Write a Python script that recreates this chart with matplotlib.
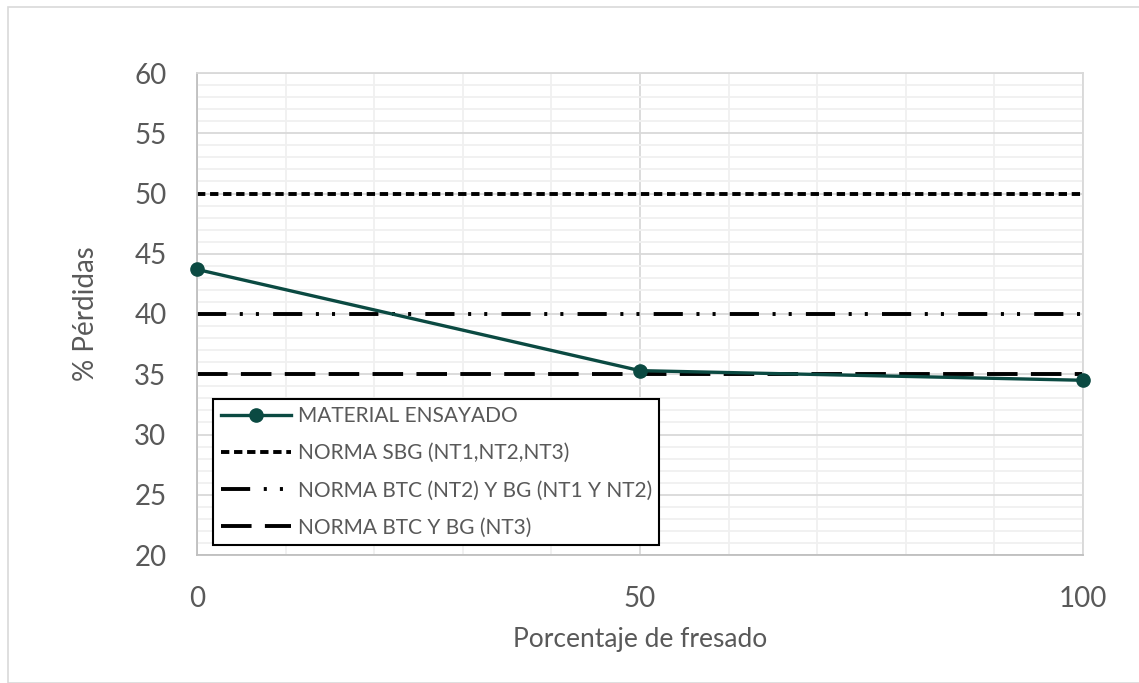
import matplotlib
matplotlib.use("Agg")
import matplotlib.pyplot as plt
from matplotlib.patches import Rectangle
from matplotlib.ticker import MultipleLocator

plt.rcParams['font.family'] = ['Lato', 'DejaVu Sans']
plt.rcParams['lines.scale_dashes'] = False

# Data
fresado = [0, 50, 100]
perdidas = [43.7, 35.3, 34.5]
norma_sbg = 50
norma_btc_bg_nt12 = 40
norma_btc_bg_nt3 = 35

labels = ["MATERIAL ENSAYADO",
          "NORMA SBG (NT1,NT2,NT3)",
          "NORMA BTC (NT2) Y BG (NT1 Y NT2)",
          "NORMA BTC Y BG (NT3)"]

text_color = "#595959"
teal = "#0B4A42"

fig = plt.figure(figsize=(11.39, 6.83), dpi=100)
W, H = 1139, 683

# outer chart frame
fig.patches.append(Rectangle((8 / W, 0), 1.2, 1 - 7 / H, transform=fig.transFigure,
                             fill=False, edgecolor="#d9d9d9", linewidth=1.2))

ax = fig.add_axes([197 / W, 1 - 555 / H, (1083 - 197) / W, (555 - 73) / H])

ax.set_xlim(0, 100)
ax.set_ylim(20, 60)
ax.xaxis.set_major_locator(MultipleLocator(50))
ax.xaxis.set_minor_locator(MultipleLocator(10))
ax.yaxis.set_major_locator(MultipleLocator(5))
ax.yaxis.set_minor_locator(MultipleLocator(1))

ax.grid(which="minor", color="#f0f0f0", linewidth=1.3, zorder=0)
ax.grid(which="major", color="#d9d9d9", linewidth=1.3, zorder=0.5)
ax.set_axisbelow(True)

for s in ["top", "right"]:
    ax.spines[s].set_color("#d9d9d9")
    ax.spines[s].set_linewidth(1.3)
for s in ["left", "bottom"]:
    ax.spines[s].set_color("#bfbfbf")
    ax.spines[s].set_linewidth(1.3)

ax.tick_params(which="both", length=0)
ax.tick_params(axis="both", labelsize=20, colors=text_color)
ax.tick_params(axis="x", pad=22)
ax.tick_params(axis="y", pad=22)

lw = 2.8
dash_sbg = (0, (6.0, 3.4))
dash_btc = (0, (21.0, 9.8, 2.2, 9.4, 2.2, 10.2))
dash_bg3 = (0, (22.0, 9.6))

ax.axhline(norma_sbg, color="black", linewidth=lw, linestyle=dash_sbg, zorder=2)
ax.axhline(norma_btc_bg_nt12, color="black", linewidth=lw, linestyle=dash_btc, zorder=2)
ax.axhline(norma_btc_bg_nt3, color="black", linewidth=lw, linestyle=dash_bg3, zorder=2)
ax.plot(fresado, perdidas, color=teal, linewidth=2.4, marker="o", markersize=9.5,
        clip_on=False, zorder=3)

h_mat, = ax.plot([], [], color=teal, linewidth=2.4, marker="o", markersize=9.5)
h_sbg, = ax.plot([], [], color="black", linewidth=lw, linestyle=dash_sbg)
h_btc, = ax.plot([], [], color="black", linewidth=lw, linestyle=dash_btc)
h_bg3, = ax.plot([], [], color="black", linewidth=lw, linestyle=dash_bg3)

leg = ax.legend([h_mat, h_sbg, h_btc, h_bg3], labels,
                loc="lower left", bbox_to_anchor=(16 / 886, 10 / 482),
                fontsize=15, handlelength=3.4, handletextpad=0.3,
                labelspacing=0.82, borderpad=0.36, borderaxespad=0,
                fancybox=False, framealpha=1, edgecolor="black",
                labelcolor=text_color)
leg.get_frame().set_linewidth(1.5)

ax.set_xlabel("Porcentaje de fresado", fontsize=19, color=text_color, labelpad=11)
ax.set_ylabel("% Pérdidas", fontsize=20, color=text_color, labelpad=25)

fig.savefig("out.png", dpi=100, facecolor="white")
